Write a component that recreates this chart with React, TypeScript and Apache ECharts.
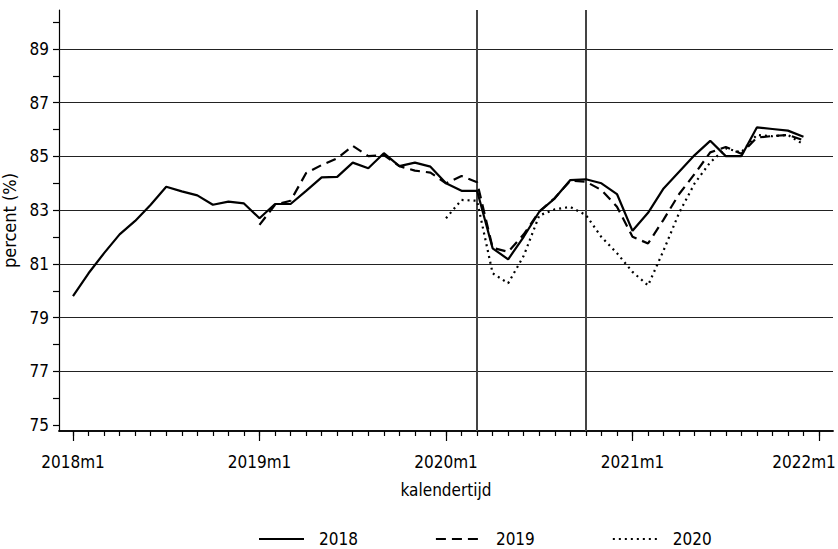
import React, { useEffect, useRef } from 'react';
import * as echarts from 'echarts';

// month index 0 = 2018m1
const yearTickIdx = [0, 12, 24, 36, 48];
const yearLabels = ['2018m1', '2019m1', '2020m1', '2021m1', '2022m1'];
const monthTickIdx = [0, 1, 2, 3, 4, 5, 6, 7, 8, 9, 10, 11, 12, 13, 14, 15, 16, 17, 18, 19, 20, 21, 22, 23, 24, 25, 26, 27, 28, 29, 30, 31, 32, 33, 34, 35, 36, 37, 38, 39, 40, 41, 42, 43, 44, 45, 46, 47, 48];
const yTickValues = [75, 76, 77, 78, 79, 80, 81, 82, 83, 84, 85, 86, 87, 88, 89, 90];
const yLabelValues = [75, 77, 79, 81, 83, 85, 87, 89];
const gridValues = [77, 79, 81, 83, 85, 87, 89];
const eventIdx = [26, 33];

const start2018 = 0;
const s2018 = [79.8, 80.65, 81.4, 82.1, 82.6, 83.2, 83.87, 83.7, 83.55, 83.2, 83.32, 83.25,
  82.7, 83.23, 83.23, 83.72, 84.22, 84.24, 84.77, 84.56, 85.12, 84.64, 84.77, 84.62,
  84.0, 83.72, 83.72, 81.58, 81.17, 82.01, 82.94, 83.44, 84.12, 84.15, 84.0, 83.6,
  82.23, 82.9, 83.81, 84.43, 85.05, 85.58, 85.01, 85.01, 86.08, 86.02, 85.96, 85.73];
const start2019 = 12;
const s2019 = [82.45, 83.2, 83.35, 84.38, 84.68, 84.93, 85.39, 85.01, 85.05, 84.64, 84.47, 84.4,
  84.0, 84.27, 84.04, 81.6, 81.45, 82.1, 82.95, 83.45, 84.1, 84.06, 83.75, 83.13,
  82.01, 81.76, 82.65, 83.6, 84.35, 85.15, 85.35, 85.1, 85.7, 85.76, 85.8, 85.6];
const start2020 = 24;
const s2020 = [82.7, 83.38, 83.35, 80.65, 80.28, 81.3, 82.8, 83.03, 83.12, 82.82, 82.0, 81.4,
  80.7, 80.2, 81.5, 82.9, 84.0, 84.78, 85.3, 85.15, 85.8, 85.75, 85.8, 85.45];

const FONT = "'Liberation Sans Narrow', 'DejaVu Sans Condensed', 'Roboto', sans-serif";
const FS = 17;

export default function App() {
  const ref = useRef<HTMLDivElement>(null);
  useEffect(() => {
    if (!ref.current) return;
    const chart = echarts.init(ref.current, undefined, { renderer: 'svg' });
    const xBase = {
      type: 'value' as const,
      min: -0.9,
      max: 48.9,
      position: 'bottom' as const,
      splitLine: { show: false },
      axisLine: { show: true, onZero: false, lineStyle: { color: '#000', width: 1.5 } },
    };
    const lastIdx = yearTickIdx[yearTickIdx.length - 1];
    chart.setOption({
      animation: false,
      textStyle: { fontFamily: FONT },
      grid: { left: 59, right: 5, top: 10, bottom: 118, containLabel: false, outerBoundsMode: 'none' },
      xAxis: [
        {
          ...xBase,
          axisTick: { show: true, customValues: monthTickIdx, length: 5, lineStyle: { color: '#000', width: 1.2 } },
          axisLabel: { show: false },
          name: 'kalendertijd',
          nameLocation: 'middle',
          nameGap: 50,
          nameTextStyle: { fontSize: FS, color: '#000', fontFamily: FONT },
        },
        {
          ...xBase,
          axisTick: { show: true, customValues: yearTickIdx, length: 10, lineStyle: { color: '#000', width: 1.2 } },
          axisLabel: {
            show: true,
            customValues: yearTickIdx,
            formatter: (v: number) => {
              const i = Math.round(v);
              const t = yearLabels[yearTickIdx.indexOf(i)] ?? '';
              return i === lastIdx ? '{last|' + t + '}' : t;
            },
            rich: {
              last: { fontSize: FS, color: '#000', fontFamily: FONT, padding: [0, 30, 0, 0] },
            },
            fontSize: FS,
            color: '#000',
            margin: 22,
            fontFamily: FONT,
          },
        },
      ],
      yAxis: {
        type: 'value',
        min: 74.78,
        max: 90.45,
        splitLine: { show: false },
        axisLine: { show: true, onZero: false, lineStyle: { color: '#000', width: 1.2 } },
        axisTick: { show: true, customValues: yTickValues, length: 6, lineStyle: { color: '#000', width: 1.2 } },
        axisLabel: { customValues: yLabelValues, fontSize: FS, color: '#000', margin: 10, fontFamily: FONT },
        name: 'percent (%)',
        nameLocation: 'middle',
        nameGap: 32,
        nameTextStyle: { fontSize: FS + 1, color: '#000', fontFamily: FONT },
      },
      legend: {
        top: 525,
        left: 253,
        itemWidth: 45,
        itemHeight: 14,
        itemGap: 77,
        itemStyle: { opacity: 0 },
        textStyle: { fontSize: FS, lineHeight: 18, color: '#000', fontFamily: FONT, padding: [0, 0, 0, 10] },
        data: ['2018', '2019', '2020'],
      },
      series: [
        {
          name: '2018',
          type: 'line',
          xAxisIndex: 0,
          symbol: 'none',
          data: s2018.map((v, k) => [k + start2018, v]),
          lineStyle: { color: '#000', width: 2.2, type: 'solid' },
          itemStyle: { color: '#000' },
          z: 5,
          markLine: {
            silent: true,
            symbol: 'none',
            label: { show: false },
            animation: false,
            data: [
              ...gridValues.map((g) => ({ yAxis: g, lineStyle: { color: '#222', width: 1, type: 'solid' as const } })),
              ...eventIdx.map((e) => ({ xAxis: e, lineStyle: { color: '#444', width: 2, type: 'solid' as const } })),
            ],
          },
        },
        {
          name: '2019',
          type: 'line',
          xAxisIndex: 0,
          symbol: 'none',
          data: s2019.map((v, k) => [k + start2019, v]),
          lineStyle: { color: '#000', width: 2.2, type: [10, 6] },
          itemStyle: { color: '#000' },
          z: 5,
        },
        {
          name: '2020',
          type: 'line',
          xAxisIndex: 0,
          symbol: 'none',
          data: s2020.map((v, k) => [k + start2020, v]),
          lineStyle: { color: '#000', width: 2.2, type: [2, 4] },
          itemStyle: { color: '#000' },
          z: 5,
        },
      ],
    });
    return () => chart.dispose();
  }, []);
  return <div ref={ref} style={{ position: 'fixed', left: 0, top: 0, width: 838, height: 549, background: '#fff' }} />;
}
